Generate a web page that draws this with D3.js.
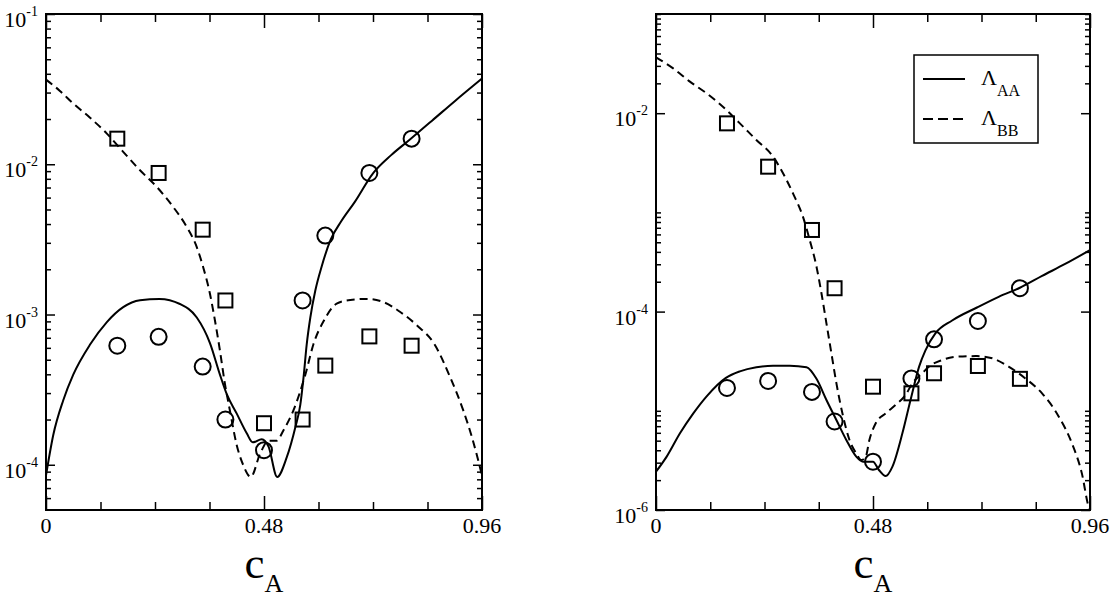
<!DOCTYPE html>
<html><head><meta charset="utf-8">
<script src="https://cdn.jsdelivr.net/npm/d3@7"></script>
<style>
body{margin:0;background:#fff}
svg{display:block}
svg text{font-family:"Liberation Serif","DejaVu Serif","Times New Roman",serif;fill:#000}
</style>
</head><body>
<svg id="chart" width="1113" height="599" font-family="Liberation Serif, DejaVu Serif, Times New Roman, serif"></svg>
<script>
// ---------- data ----------
const xMajorTicks = [0, 0.48, 0.96];
const xTickLabels = ["0", "0.48", "0.96"];
const xMinorTicks = [0.12, 0.24, 0.36, 0.60, 0.72, 0.84];

const markerX = [0.157, 0.248, 0.345, 0.395, 0.48, 0.565, 0.615, 0.712, 0.805];

// left panel symbols
const leftAAPoints = [6.2e-4, 7.1e-4, 4.5e-4, 2.0e-4, 1.25e-4, 1.24e-3, 3.35e-3, 8.75e-3, 1.48e-2];
const leftBBPoints = [1.48e-2, 8.75e-3, 3.67e-3, 1.24e-3, 1.89e-4, 2.0e-4, 4.57e-4, 7.15e-4, 6.2e-4];

// left panel curves
const leftAAx = [0, 0.016, 0.038, 0.06, 0.097, 0.134, 0.17, 0.207, 0.25, 0.295, 0.332, 0.361, 0.383, 0.398, 0.42, 0.442, 0.455, 0.475, 0.49, 0.509, 0.53, 0.549, 0.56, 0.567, 0.574, 0.582, 0.593, 0.607, 0.627, 0.65, 0.68, 0.72, 0.76, 0.80, 0.85, 0.90, 0.96];
const leftAAy = [8.5e-5, 1.58e-4, 2.69e-4, 3.98e-4, 6.31e-4, 8.91e-4, 1.12e-3, 1.245e-3, 1.27e-3, 1.175e-3, 9.55e-4, 6.46e-4, 3.98e-4, 2.95e-4, 2.19e-4, 1.62e-4, 1.41e-4, 1.48e-4, 1.32e-4, 8.3e-5, 1.12e-4, 1.78e-4, 2.51e-4, 3.8e-4, 6.31e-4, 9.55e-4, 1.445e-3, 2.09e-3, 3.16e-3, 4.17e-3, 5.62e-3, 8.7e-3, 1.15e-2, 1.45e-2, 1.95e-2, 2.63e-2, 3.72e-2];

const leftBBx = [0, 0.03, 0.06, 0.097, 0.134, 0.17, 0.207, 0.244, 0.28, 0.31, 0.332, 0.346, 0.361, 0.372, 0.383, 0.394, 0.405, 0.42, 0.434, 0.451, 0.471, 0.49, 0.508, 0.523, 0.545, 0.571, 0.589, 0.612, 0.64, 0.67, 0.706, 0.743, 0.78, 0.817, 0.855, 0.89, 0.919, 0.938, 0.96];
const leftBBy = [3.66e-2, 3.09e-2, 2.535e-2, 2.04e-2, 1.6e-2, 1.21e-2, 9.12e-3, 7.06e-3, 5.2e-3, 3.82e-3, 2.81e-3, 2.07e-3, 1.374e-3, 9.12e-4, 5.75e-4, 3.45e-4, 2.29e-4, 1.35e-4, 1.0e-4, 8.3e-5, 1.175e-4, 1.445e-4, 1.445e-4, 1.7e-4, 2.31e-4, 3.98e-4, 6.37e-4, 9.12e-4, 1.18e-3, 1.25e-3, 1.27e-3, 1.21e-3, 1.04e-3, 8.45e-4, 6.37e-4, 3.82e-4, 2.29e-4, 1.52e-4, 8.5e-5];

// right panel symbols
const rightAAPoints = [1.7e-5, 2.0e-5, 1.55e-5, 7.8e-6, 3.07e-6, 2.12e-5, 5.25e-5, 8.04e-5, 1.72e-4];
const rightBBPoints = [7.9e-3, 2.89e-3, 6.65e-4, 1.72e-4, 1.75e-5, 1.5e-5, 2.39e-5, 2.83e-5, 2.1e-5];

// right panel curves
const rightAAx = [0, 0.0236, 0.053, 0.0825, 0.112, 0.1546, 0.1855, 0.222, 0.259, 0.296, 0.333, 0.355, 0.377, 0.399, 0.421, 0.443, 0.458, 0.48, 0.493, 0.508, 0.523, 0.545, 0.563, 0.582, 0.596, 0.618, 0.655, 0.71, 0.758, 0.805, 0.854, 0.905, 0.96];
const rightAAy = [2.43e-6, 3.45e-6, 5.93e-6, 9.42e-6, 1.4e-5, 2.15e-5, 2.5e-5, 2.75e-5, 2.85e-5, 2.85e-5, 2.75e-5, 2.1e-5, 1.285e-5, 8.07e-6, 5.08e-6, 3.45e-6, 3.07e-6, 3.07e-6, 2.53e-6, 2.2e-6, 2.74e-6, 5.93e-6, 1.285e-5, 2.79e-5, 4.07e-5, 6.03e-5, 8.13e-5, 1.1e-4, 1.41e-4, 1.74e-4, 2.29e-4, 3.02e-4, 4.17e-4];

const rightBBx = [0, 0.038, 0.075, 0.112, 0.156, 0.1855, 0.222, 0.259, 0.281, 0.303, 0.325, 0.34, 0.355, 0.366, 0.377, 0.388, 0.399, 0.414, 0.428, 0.443, 0.454, 0.464, 0.472, 0.486, 0.508, 0.53, 0.552, 0.567, 0.589, 0.604, 0.633, 0.67, 0.71, 0.744, 0.78, 0.817, 0.854, 0.891, 0.92, 0.942, 0.957, 0.96];
const rightBBy = [3.66e-2, 2.83e-2, 2.08e-2, 1.585e-2, 1.076e-2, 7.9e-3, 5.37e-3, 3.65e-3, 2.48e-3, 1.556e-3, 9.06e-4, 5.27e-4, 2.84e-4, 1.53e-4, 7.62e-5, 3.8e-5, 1.9e-5, 8.73e-6, 5.08e-6, 3.72e-6, 3.19e-6, 3.45e-6, 5.08e-6, 7.48e-6, 9.42e-6, 1.146e-5, 1.445e-5, 1.89e-5, 2.39e-5, 2.79e-5, 3.25e-5, 3.52e-5, 3.56e-5, 3.38e-5, 2.79e-5, 2.12e-5, 1.5e-5, 8.73e-6, 4.7e-6, 2.34e-6, 1.08e-6, 1.0e-6];

const leftYMajor = [1e-4, 1e-3, 1e-2, 1e-1];
const leftYLabels = ["-4", "-3", "-2", "-1"];
const rightYMajor = [1e-6, 1e-4, 1e-2];
const rightYLabels = ["-6", "-4", "-2"];
const legendLabels = ["AA", "BB"];

// ---------- drawing ----------
const FONT = "Liberation Serif, DejaVu Serif, Times New Roman, serif";
const svg = d3.select("#chart");

function zip(xs, ys) { return xs.map((x, i) => [x, ys[i]]); }

function drawPanel(p) {
  const x = d3.scaleLinear().domain([0, 0.96]).range([p.x0, p.x1]);
  const y = d3.scaleLog().domain(p.yDomain).range([p.y1, p.y0]);
  const g = svg.append("g");

  const line = d3.line().x(d => x(d[0])).y(d => y(d[1])).curve(d3.curveMonotoneX);
  g.append("path").attr("d", line(zip(p.aaX, p.aaY)))
    .attr("fill", "none").attr("stroke", "#000").attr("stroke-width", 2);
  g.append("path").attr("d", line(zip(p.bbX, p.bbY)))
    .attr("fill", "none").attr("stroke", "#000").attr("stroke-width", 2)
    .attr("stroke-dasharray", "8,5");

  // symbols
  g.selectAll(null).data(zip(markerX, p.aaPts)).enter().append("circle")
    .attr("cx", d => x(d[0])).attr("cy", d => y(d[1])).attr("r", 8)
    .attr("fill", "none").attr("stroke", "#000").attr("stroke-width", 2);
  g.selectAll(null).data(zip(markerX, p.bbPts)).enter().append("rect")
    .attr("x", d => x(d[0]) - 7).attr("y", d => y(d[1]) - 7)
    .attr("width", 14).attr("height", 14)
    .attr("fill", "none").attr("stroke", "#000").attr("stroke-width", 2);

  // frame
  g.append("rect").attr("x", p.x0).attr("y", p.y0)
    .attr("width", p.x1 - p.x0).attr("height", p.y1 - p.y0)
    .attr("fill", "none").attr("stroke", "#000").attr("stroke-width", 2);

  // x axes (bottom + mirrored top)
  const xAxisB = d3.axisBottom(x).tickValues(xMajorTicks).tickSize(-14).tickFormat("");
  const xAxisBm = d3.axisBottom(x).tickValues(xMinorTicks).tickSize(-8).tickFormat("");
  const xAxisT = d3.axisTop(x).tickValues(xMajorTicks).tickSize(-14).tickFormat("");
  const xAxisTm = d3.axisTop(x).tickValues(xMinorTicks).tickSize(-8).tickFormat("");
  [[xAxisB, p.y1], [xAxisBm, p.y1], [xAxisT, p.y0], [xAxisTm, p.y0]].forEach(([ax, ty]) => {
    const a = g.append("g").attr("transform", `translate(0,${ty})`).call(ax);
    a.select(".domain").remove();
    a.selectAll("line").attr("stroke", "#000").attr("stroke-width", 1.5);
  });
  g.selectAll(null).data(xMajorTicks).enter().append("text")
    .attr("x", d => x(d)).attr("y", p.y1 + 23)
    .attr("text-anchor", "middle").attr("font-size", 22).attr("font-family", FONT)
    .text((d, i) => xTickLabels[i]);

  // y axes
  const yMinor = [];
  p.minorBases.forEach(b => { for (let k = 2; k <= p.minorMax; k++) { const v = b * k; if (v > p.yDomain[0] && v < p.yDomain[1] * 1.0001) yMinor.push(v); } });
  const yAxisL = d3.axisLeft(y).tickValues(p.yMajor).tickSize(-9).tickFormat("");
  const yAxisLm = d3.axisLeft(y).tickValues(yMinor).tickSize(-5).tickFormat("");
  const yAxisR = d3.axisRight(y).tickValues(p.yMajor).tickSize(-9).tickFormat("");
  const yAxisRm = d3.axisRight(y).tickValues(yMinor).tickSize(-5).tickFormat("");
  [[yAxisL, p.x0], [yAxisLm, p.x0], [yAxisR, p.x1], [yAxisRm, p.x1]].forEach(([ax, tx]) => {
    const a = g.append("g").attr("transform", `translate(${tx},0)`).call(ax);
    a.select(".domain").remove();
    a.selectAll("line").attr("stroke", "#000").attr("stroke-width", 1.5);
  });
  const lbl = g.selectAll(null).data(p.yMajor).enter().append("text")
    .attr("x", p.x0 - 8).attr("y", d => y(d) + 13)
    .attr("text-anchor", "end").attr("font-size", 22).attr("font-family", FONT);
  lbl.append("tspan").text("10");
  lbl.append("tspan").attr("dy", -11).attr("font-size", 14).text((d, i) => p.yLabels[i]);

  // x-axis title
  const t = g.append("text").attr("x", (p.x0 + p.x1) / 2).attr("y", 578)
    .attr("text-anchor", "middle").attr("font-size", 45).attr("font-family", FONT);
  t.append("tspan").text("c");
  t.append("tspan").attr("dy", 14).attr("font-size", 26).text("A");
  return { x, y };
}

drawPanel({
  x0: 46, x1: 482, y0: 14, y1: 510, yDomain: [5e-5, 1e-1],
  yMajor: leftYMajor, yLabels: leftYLabels, minorBases: [1e-5, 1e-4, 1e-3, 1e-2], minorMax: 9,
  aaX: leftAAx, aaY: leftAAy, bbX: leftBBx, bbY: leftBBy,
  aaPts: leftAAPoints, bbPts: leftBBPoints
});
drawPanel({
  x0: 656, x1: 1090, y0: 14, y1: 510, yDomain: [1e-6, 1e-1],
  yMajor: rightYMajor, yLabels: rightYLabels, minorBases: [1e-6, 1e-4, 1e-2], minorMax: 10,
  aaX: rightAAx, aaY: rightAAy, bbX: rightBBx, bbY: rightBBy,
  aaPts: rightAAPoints, bbPts: rightBBPoints
});

// legend
const lg = svg.append("g");
lg.append("rect").attr("x", 914).attr("y", 55).attr("width", 124).attr("height", 88)
  .attr("fill", "#fff").attr("stroke", "#000").attr("stroke-width", 1.5);
[0, 1].forEach(i => {
  const cy = 79 + i * 40;
  lg.append("line").attr("x1", 923).attr("x2", 965).attr("y1", cy).attr("y2", cy)
    .attr("stroke", "#000").attr("stroke-width", 2)
    .attr("stroke-dasharray", i === 1 ? "10,5" : null);
  const tx = lg.append("text").attr("x", 981).attr("y", cy + 6).attr("font-size", 22).attr("font-family", FONT);
  tx.append("tspan").text("Λ");
  tx.append("tspan").attr("dy", 11).attr("font-size", 16).text(legendLabels[i]);
});
</script>
</body></html>
